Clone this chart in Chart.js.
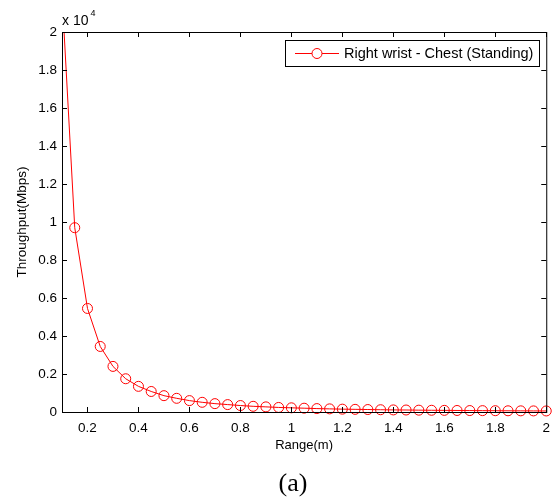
<!DOCTYPE html>
<html>
<head>
<meta charset="utf-8">
<script src="https://cdn.jsdelivr.net/npm/chart.js@4"></script>
<style>
  html, body { margin: 0; padding: 0; background: #fff; }
  #wrap { width: 558px; height: 500px; }
</style>
</head>
<body>
<div id="wrap"><canvas id="myChart" width="558" height="500"></canvas></div>
<script>
// data
let ranges = [0.1, 0.15, 0.2, 0.25, 0.3, 0.35, 0.4, 0.45, 0.5, 0.55, 0.6, 0.65, 0.7, 0.75, 0.8, 0.85, 0.9, 0.95, 1.0,
  1.05, 1.1, 1.15, 1.2, 1.25, 1.3, 1.35, 1.4, 1.45, 1.5, 1.55, 1.6, 1.65, 1.7, 1.75, 1.8, 1.85, 1.9, 1.95, 2.0]
let throughput = [22000, 9700, 5450, 3450, 2400, 1750, 1350, 1080, 860, 720, 600, 510, 440, 390, 340, 300, 270, 240, 220,
  200, 180, 165, 150, 140, 130, 120, 110, 105, 97, 91, 86, 80, 76, 72, 68, 64, 61, 58, 55]
let xTicks = [0.2, 0.4, 0.6, 0.8, 1, 1.2, 1.4, 1.6, 1.8, 2]
let yTicks = [0, 2000, 4000, 6000, 8000, 10000, 12000, 14000, 16000, 18000, 20000]
let seriesName = 'Right wrist - Chest (Standing)'
let caption = '(a)'

let ctx = document.getElementById('myChart').getContext('2d')
const FONT = 'Liberation Sans, Arial, Helvetica, sans-serif'

// matlab style box + inward ticks + legend + exponent label + caption
const matlabBox = {
  id: 'matlabBox',
  afterDatasetsDraw(chart) {
    let c = chart.ctx
    let a = chart.chartArea
    let xs = chart.scales.x
    let ys = chart.scales.y
    c.save()
    c.strokeStyle = '#000'
    c.lineWidth = 1
    c.beginPath()
    for (let t of xTicks) {
      let px = Math.round(xs.getPixelForValue(t)) + 0.5
      c.moveTo(px, a.bottom); c.lineTo(px, a.bottom - 5)
      c.moveTo(px, a.top); c.lineTo(px, a.top + 5)
    }
    for (let t of yTicks) {
      let py = Math.round(ys.getPixelForValue(t)) + 0.5
      c.moveTo(a.left, py); c.lineTo(a.left + 5, py)
      c.moveTo(a.right, py); c.lineTo(a.right - 5, py)
    }
    c.stroke()
    c.strokeRect(a.left + 0.5, a.top + 0.5, a.right - a.left, a.bottom - a.top)

    // exponent
    c.fillStyle = '#000'
    c.textBaseline = 'alphabetic'
    c.textAlign = 'left'
    c.font = '14px ' + FONT
    c.fillText('x 10', a.left, 25)
    let w = c.measureText('x 10').width
    c.font = '9px ' + FONT
    c.fillText('4', a.left + w + 2, 16)

    // legend
    let bx = 285, by = 40, bw = 254, bh = 26
    c.fillStyle = '#fff'
    c.fillRect(bx, by, bw, bh)
    c.strokeStyle = '#000'
    c.strokeRect(bx + 0.5, by + 0.5, bw, bh)
    let my = by + bh / 2 + 0.5
    c.strokeStyle = 'red'
    c.beginPath()
    c.moveTo(295, my); c.lineTo(339, my)
    c.stroke()
    c.beginPath()
    c.arc(317, my, 5, 0, Math.PI * 2)
    c.fillStyle = '#fff'
    c.fill()
    c.stroke()
    c.fillStyle = '#000'
    c.font = '14.5px ' + FONT
    c.textBaseline = 'middle'
    c.fillText(chart.data.datasets[0].label, 344, my)

    // caption under the figure
    c.font = '26px Liberation Serif, Times New Roman, serif'
    c.textAlign = 'center'
    c.fillText(caption, 293, 484)
    c.restore()
  }
}

let chart = new Chart(ctx, {
  type: 'line',
  data: {
    datasets: [{
      label: seriesName,
      data: ranges.map((r, i) => ({ x: r, y: throughput[i] })),
      borderColor: 'rgb(255,0,0)',
      backgroundColor: 'rgba(255,255,255,0)',
      borderWidth: 1,
      pointStyle: 'circle',
      pointRadius: 5,
      pointBorderWidth: 1,
      pointBorderColor: 'rgb(255,0,0)',
      pointBackgroundColor: 'rgba(255,255,255,0)',
      tension: 0,
      clip: { left: 0, top: 0, right: 8, bottom: 8 }
    }]
  },
  options: {
    responsive: false,
    animation: false,
    layout: { padding: { left: 0, right: 11, top: 32, bottom: 47 } },
    plugins: {
      legend: { display: false },
      tooltip: { enabled: false }
    },
    scales: {
      x: {
        type: 'linear',
        min: 0.1,
        max: 2,
        afterBuildTicks: s => { s.ticks = xTicks.map(v => ({ value: v })) },
        afterFit: s => { s.height = 41 },
        grid: { display: false, drawTicks: false },
        border: { display: false },
        ticks: {
          color: '#000',
          padding: 8,
          maxRotation: 0,
          autoSkip: false,
          font: { family: FONT, size: 13.5 },
          callback: v => String(Math.round(v * 10) / 10)
        },
        title: {
          display: true,
          text: 'Range(m)',
          color: '#000',
          padding: { top: 2, bottom: 0 },
          font: { family: FONT, size: 13 }
        }
      },
      y: {
        type: 'linear',
        min: 0,
        max: 20000,
        afterBuildTicks: s => { s.ticks = yTicks.map(v => ({ value: v })) },
        afterFit: s => { s.width = 62 },
        grid: { display: false, drawTicks: false },
        border: { display: false },
        ticks: {
          color: '#000',
          padding: 5,
          autoSkip: false,
          font: { family: FONT, size: 13.5 },
          callback: v => String(Math.round(v / 1000) / 10)
        },
        title: {
          display: true,
          text: 'Throughput(Mbps)',
          color: '#000',
          padding: { top: 14, bottom: 0 },
          font: { family: FONT, size: 13.5 }
        }
      }
    }
  },
  plugins: [matlabBox]
})
</script>
</body>
</html>
